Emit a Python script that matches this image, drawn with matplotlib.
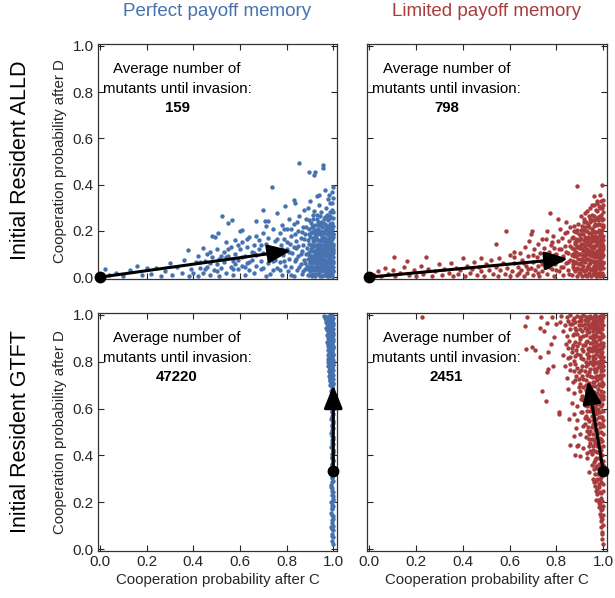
import numpy as np
import matplotlib
matplotlib.use('Agg')
import matplotlib.pyplot as plt

plt.rcParams['font.family'] = ['Liberation Sans', 'DejaVu Sans']

# 列・行ラベル
col_titles = ['Perfect payoff memory', 'Limited payoff memory']
col_colors = ['#4672b0', '#a83c3c']
row_titles = ['Initial Resident ALLD', 'Initial Resident GTFT']
invasion_counts = ['159', '798', '47220', '2451']

# 矢印（初期レジデント -> 平均ミュータント）
arrow_start = [[0.0, 0.0], [0.0, 0.0], [1.0, 0.333], [1.0, 0.333]]
arrow_end = [[0.82, 0.115], [0.85, 0.08], [1.0, 0.70], [0.935, 0.72]]

# --- 侵入したミュータント (p_C, p_D) ---
alld_perfect = np.array([
    [0.02,0.035],[0.04,0.01],[0.07,0.02],[0.10,0.005],[0.13,0.03],[0.16,0.05],[0.18,0.01],[0.20,0.04],
    [0.22,0.015],[0.24,0.04],[0.26,0.005],[0.28,0.025],[0.30,0.06],[0.31,0.01],[0.33,0.045],[0.35,0.02],
    [0.36,0.075],[0.375,0.116],[0.38,0.005],[0.39,0.035],
    [0.40,0.02],[0.41,0.065],[0.42,0.005],[0.42,0.09],[0.43,0.04],[0.443,0.127],[0.44,0.02],[0.45,0.07],
    [0.46,0.045],[0.46,0.10],[0.47,0.01],[0.47,0.06],[0.479,0.18],[0.48,0.085],[0.49,0.03],[0.493,0.175],
    [0.50,0.055],[0.50,0.12],[0.505,0.193],[0.51,0.005],[0.51,0.08],[0.522,0.263],[0.52,0.04],[0.53,0.11],
    [0.53,0.065],[0.54,0.15],[0.54,0.02],[0.549,0.232],[0.55,0.09],[0.56,0.045],[0.566,0.246],[0.56,0.13],
    [0.57,0.07],[0.57,0.01],[0.58,0.16],[0.58,0.10],[0.59,0.035],[0.59,0.075],[0.60,0.12],[0.601,0.20],
    [0.608,0.206],[0.61,0.05],[0.61,0.15],[0.62,0.01],[0.62,0.09],[0.63,0.13],[0.63,0.06],[0.64,0.175],
    [0.64,0.03],[0.65,0.11],[0.65,0.075],[0.66,0.14],[0.66,0.02],[0.67,0.244],[0.67,0.095],[0.67,0.05],
    [0.68,0.16],[0.68,0.12],[0.69,0.035],[0.69,0.07],[0.698,0.292],[0.70,0.19],[0.70,0.105],[0.708,0.242],
    [0.71,0.005],[0.71,0.145],[0.718,0.242],[0.72,0.06],[0.72,0.17],[0.73,0.09],[0.73,0.125],[0.737,0.39],
    [0.74,0.03],[0.74,0.21],[0.75,0.155],[0.75,0.075],
    [0.758,0.278],[0.76,0.04],[0.76,0.11],[0.77,0.19],[0.77,0.065],[0.775,0.14],[0.78,0.01],[0.78,0.225],
    [0.785,0.095],[0.79,0.165],[0.794,0.306],[0.795,0.05],[0.80,0.12],[0.80,0.21],[0.805,0.025],[0.81,0.08],
    [0.81,0.25],[0.815,0.145],[0.82,0.18],[0.82,0.045],[0.825,0.105],[0.83,0.335],[0.83,0.005],[0.83,0.23],
    [0.835,0.07],[0.837,0.32],[0.84,0.155],[0.84,0.125],[0.845,0.03],[0.85,0.20],[0.851,0.492],[0.85,0.09],
    [0.855,0.265],[0.86,0.055],[0.86,0.17],[0.865,0.115],[0.865,0.015],[0.87,0.215],[0.87,0.14],[0.875,0.075],
    [0.875,0.29],[0.88,0.035],[0.88,0.185],[0.885,0.10],[0.885,0.25],
    [0.891,0.01],[0.894,0.456],[0.889,0.05],[0.893,0.08],[0.888,0.125],[0.892,0.16],[0.896,0.21],[0.890,0.30],
    [0.899,0.025],[0.902,0.065],[0.898,0.095],[0.903,0.14],[0.900,0.175],[0.904,0.235],[0.901,0.33],
    [0.908,0.005],[0.910,0.045],[0.907,0.115],[0.912,0.155],[0.909,0.195],[0.911,0.27],[0.906,0.08],
    [0.916,0.442],[0.918,0.03],[0.915,0.06],[0.920,0.10],[0.917,0.135],[0.921,0.18],[0.914,0.22],[0.919,0.285],
    [0.923,0.456],[0.926,0.015],[0.928,0.05],[0.925,0.085],[0.929,0.12],[0.924,0.165],[0.927,0.205],[0.930,0.349],
    [0.931,0.25],[0.935,0.035],[0.937,0.356],[0.934,0.07],[0.938,0.105],[0.933,0.145],[0.939,0.19],[0.936,0.225],
    [0.940,0.31],[0.943,0.005],[0.945,0.055],[0.942,0.09],[0.946,0.13],[0.944,0.16],[0.947,0.24],[0.941,0.20],
    [0.948,0.28],[0.952,0.025],[0.955,0.485],[0.955,0.47],[0.951,0.065],[0.954,0.10],[0.950,0.14],[0.956,0.175],
    [0.953,0.215],[0.957,0.04],[0.960,0.01],[0.962,0.08],[0.959,0.115],[0.963,0.15],[0.961,0.19],[0.966,0.378],
    [0.964,0.26],[0.958,0.05],[0.965,0.23],[0.968,0.03],[0.970,0.065],[0.967,0.095],[0.971,0.13],[0.969,0.165],
    [0.972,0.205],[0.968,0.30],[0.973,0.005],[0.975,0.045],[0.977,0.085],[0.974,0.12],[0.978,0.155],[0.976,0.185],
    [0.979,0.245],[0.980,0.356],[0.976,0.02],[0.978,0.34],[0.982,0.06],[0.984,0.10],[0.981,0.14],[0.985,0.175],
    [0.983,0.215],[0.986,0.28],[0.982,0.035],[0.985,0.01],[0.988,0.075],[0.990,0.115],[0.987,0.15],[0.991,0.195],
    [0.989,0.05],[0.992,0.23],[0.988,0.32],[0.990,0.02],[0.994,0.32],[0.995,0.09],[0.993,0.13],[0.996,0.165],
    [0.994,0.04],[0.997,0.255],[0.995,0.21],[0.996,0.005],[0.993,0.37],[1.0,0.342],[0.999,0.06],[0.998,0.105],
    [1.0,0.145],[0.999,0.185],[0.998,0.025],[1.0,0.28],[0.999,0.39],[1.0,0.22],
    [0.905,0.03],[0.913,0.09],[0.922,0.04],[0.932,0.10],[0.947,0.11],[0.957,0.075],[0.963,0.12],[0.971,0.05],
    [0.979,0.10],[0.986,0.13],[0.992,0.09],[0.997,0.07],[0.983,0.17],[0.974,0.14],[0.965,0.17],[0.952,0.16],
    [0.938,0.015],[0.927,0.14],[0.997,0.12],[0.988,0.21],[0.969,0.215],[0.95,0.195],[0.93,0.185],[0.91,0.125],
    [0.52,0.09],[0.55,0.12],[0.57,0.035],[0.59,0.14],[0.61,0.085],[0.63,0.165],[0.64,0.065],[0.66,0.105],
    [0.67,0.18],[0.69,0.14],[0.70,0.04],[0.71,0.22],[0.72,0.10],[0.73,0.015],[0.74,0.07],[0.75,0.115],
    [0.76,0.165],[0.77,0.03],[0.78,0.12],[0.79,0.21],[0.79,0.07],[0.80,0.15],[0.81,0.11],[0.82,0.01],
    [0.82,0.21],[0.83,0.13],[0.835,0.185],[0.84,0.08],[0.845,0.24],[0.85,0.135],[0.855,0.045],[0.86,0.10],
    [0.865,0.195],[0.87,0.025],[0.875,0.165],[0.88,0.06],[0.885,0.215],[0.62,0.045],[0.58,0.055],[0.54,0.085],
    [0.50,0.025],[0.47,0.11],[0.45,0.035],[0.43,0.065],
    [0.892,0.035],[0.897,0.11],[0.894,0.185],[0.899,0.06],[0.895,0.145],[0.902,0.01],[0.905,0.12],[0.908,0.215],
    [0.904,0.09],[0.911,0.17],[0.914,0.015],[0.917,0.075],[0.913,0.25],[0.919,0.155],[0.922,0.115],[0.925,0.065],
    [0.921,0.225],[0.928,0.175],[0.924,0.03],[0.931,0.08],[0.934,0.125],[0.929,0.27],[0.936,0.16],[0.939,0.045],
    [0.941,0.115],[0.944,0.185],[0.938,0.085],[0.946,0.035],[0.949,0.075],[0.945,0.225],[0.952,0.12],[0.948,0.155],
    [0.955,0.055],[0.958,0.135],[0.954,0.195],[0.961,0.03],[0.959,0.25],[0.964,0.095],[0.962,0.165],[0.966,0.055],
    [0.968,0.145],[0.971,0.185],[0.967,0.01],[0.973,0.105],[0.975,0.07],[0.972,0.27],[0.977,0.125],[0.979,0.035],
    [0.981,0.19],[0.978,0.21],[0.983,0.08],[0.985,0.155],[0.982,0.12],[0.987,0.04],[0.989,0.175],[0.986,0.23],
    [0.991,0.065],[0.993,0.105],[0.99,0.145],[0.995,0.015],[0.997,0.185],[0.994,0.235],[0.999,0.085],[0.998,0.135],
    [1.0,0.045],[1.0,0.175],[0.996,0.29],[0.999,0.115],[0.984,0.255],[0.975,0.22],[0.963,0.205],[0.953,0.175],
    [0.943,0.14],[0.933,0.21],[0.923,0.19],[0.913,0.14],[0.903,0.19],[0.9,0.045],[0.91,0.06],[0.92,0.005],
    [0.93,0.06],[0.94,0.025],[0.95,0.005],[0.96,0.065],[0.97,0.02],[0.98,0.005],[0.99,0.035],[1.0,0.025],
    [0.96,0.14],[0.98,0.065],[0.99,0.215],[0.97,0.115],[0.95,0.08],[0.935,0.24],[0.918,0.205],[0.898,0.245],
    [0.926,0.11],[0.957,0.235],[0.987,0.265],[0.969,0.26],[0.944,0.265],[0.992,0.16],[0.976,0.1],[0.981,0.025],
    [0.965,0.135],[0.958,0.095],
])

alld_limited = np.array([
    [0.02,0.01],[0.04,0.025],[0.05,0.005],[0.07,0.04],[0.08,0.015],[0.10,0.03],[0.108,0.089],[0.11,0.005],
    [0.13,0.02],[0.15,0.045],[0.161,0.07],[0.17,0.01],[0.19,0.03],[0.20,0.005],[0.22,0.05],[0.23,0.015],
    [0.242,0.085],[0.25,0.035],[0.27,0.005],[0.28,0.025],[0.30,0.055],[0.31,0.01],[0.32,0.035],[0.34,0.02],
    [0.35,0.06],[0.36,0.005],[0.37,0.04],[0.38,0.015],[0.39,0.03],[0.40,0.084],[0.41,0.005],[0.42,0.05],
    [0.43,0.02],[0.44,0.035],[0.45,0.065],[0.46,0.01],[0.47,0.045],[0.48,0.084],[0.48,0.025],[0.49,0.005],
    [0.50,0.055],[0.51,0.03],[0.52,0.075],[0.53,0.015],[0.541,0.142],[0.54,0.045],[0.55,0.005],[0.556,0.084],
    [0.56,0.03],[0.57,0.06],[0.58,0.015],[0.585,0.199],[0.59,0.04],[0.60,0.095],[0.60,0.005],
    [0.61,0.025],[0.62,0.06],[0.62,0.11],[0.63,0.01],[0.635,0.045],[0.645,0.103],[0.65,0.03],[0.655,0.075],
    [0.66,0.005],[0.665,0.13],[0.67,0.05],[0.675,0.02],[0.68,0.09],[0.685,0.155],[0.69,0.185],[0.69,0.04],
    [0.695,0.199],[0.70,0.065],[0.70,0.01],[0.705,0.12],[0.71,0.03],[0.715,0.085],[0.72,0.145],[0.72,0.05],
    [0.725,0.005],[0.73,0.105],[0.735,0.07],[0.74,0.025],[0.74,0.165],[0.745,0.125],[0.75,0.045],[0.75,0.09],
    [0.757,0.163],[0.76,0.199],[0.76,0.015],[0.765,0.06],[0.771,0.277],[0.77,0.11],[0.775,0.14],[0.78,0.035],
    [0.78,0.08],[0.785,0.18],[0.79,0.005],[0.79,0.125],[0.795,0.055],[0.80,0.10],[0.805,0.252],[0.805,0.155],
    [0.81,0.025],[0.81,0.075],[0.815,0.21],[0.82,0.12],[0.82,0.045],[0.825,0.17],[0.83,0.09],[0.83,0.01],
    [0.835,0.135],[0.84,0.06],[0.842,0.238],[0.845,0.195],[0.85,0.03],[0.85,0.105],[0.855,0.155],[0.86,0.075],
    [0.86,0.215],
    [0.865,0.01],[0.868,0.125],[0.870,0.045],[0.872,0.175],[0.874,0.22],[0.876,0.09],[0.878,0.145],[0.879,0.025],
    [0.881,0.065],[0.883,0.195],[0.885,0.11],[0.887,0.005],[0.888,0.395],[0.889,0.155],[0.890,0.04],[0.892,0.08],
    [0.894,0.23],[0.896,0.125],[0.897,0.02],[0.899,0.17],[0.900,0.06],[0.902,0.10],[0.903,0.205],[0.905,0.035],
    [0.906,0.145],[0.907,0.264],[0.909,0.08],[0.910,0.005],[0.912,0.185],[0.913,0.115],[0.915,0.05],[0.916,0.16],
    [0.918,0.025],[0.919,0.24],[0.920,0.277],[0.921,0.09],[0.923,0.135],[0.924,0.065],[0.926,0.20],[0.927,0.01],
    [0.928,0.105],[0.930,0.17],[0.931,0.04],[0.932,0.285],[0.933,0.225],[0.934,0.08],[0.936,0.145],[0.937,0.02],
    [0.939,0.115],[0.940,0.19],[0.941,0.055],[0.943,0.25],[0.944,0.095],[0.945,0.165],[0.946,0.005],[0.948,0.13],
    [0.949,0.035],[0.950,0.21],[0.952,0.07],[0.953,0.31],[0.954,0.155],[0.955,0.105],[0.957,0.015],[0.958,0.18],
    [0.959,0.05],[0.960,0.265],[0.962,0.352],[0.962,0.125],[0.963,0.085],[0.965,0.23],[0.966,0.03],[0.967,0.16],
    [0.968,0.06],[0.969,0.195],[0.970,0.105],[0.971,0.005],[0.973,0.328],[0.973,0.14],[0.974,0.045],[0.975,0.285],
    [0.976,0.085],[0.977,0.175],[0.978,0.02],[0.979,0.245],[0.980,0.306],[0.980,0.12],[0.981,0.065],[0.982,0.205],
    [0.983,0.155],[0.984,0.035],[0.985,0.10],[0.986,0.265],[0.987,0.185],[0.988,0.005],[0.988,0.075],[0.989,0.135],
    [0.990,0.225],[0.991,0.05],[0.992,0.165],[0.993,0.11],[0.993,0.30],[0.994,0.02],[0.995,0.399],[0.995,0.205],
    [0.996,0.085],[0.996,0.145],[0.997,0.04],[0.997,0.25],[0.998,0.18],[0.998,0.12],[0.999,0.06],[0.999,0.335],
    [1.0,0.01],[1.0,0.095],[1.0,0.16],[1.0,0.215],[1.0,0.28],
    [0.87,0.07],[0.88,0.11],[0.89,0.13],[0.895,0.055],[0.905,0.165],[0.91,0.035],[0.915,0.095],[0.925,0.15],
    [0.935,0.05],[0.94,0.165],[0.945,0.075],[0.955,0.135],[0.96,0.025],[0.965,0.195],[0.97,0.07],[0.975,0.115],
    [0.98,0.045],[0.985,0.135],[0.99,0.09],[0.995,0.175],[0.97,0.25],[0.96,0.22],[0.95,0.245],[0.94,0.215],
    [0.985,0.06],[0.99,0.19],[0.965,0.105],[0.955,0.04],[0.945,0.115],[0.925,0.03],[0.915,0.205],[0.905,0.08],
    [0.885,0.165],[0.875,0.2],[0.99,0.255],[0.98,0.15],[0.975,0.005],[0.93,0.12],[0.95,0.09],[0.97,0.14],
    [0.62,0.085],[0.64,0.02],[0.66,0.06],[0.68,0.035],[0.70,0.095],[0.72,0.02],[0.74,0.055],[0.76,0.09],
    [0.77,0.045],[0.78,0.15],[0.79,0.095],[0.80,0.03],[0.81,0.12],[0.82,0.075],[0.83,0.045],[0.835,0.19],
    [0.84,0.11],[0.85,0.065],[0.855,0.015],[0.86,0.135],[0.865,0.17],[0.87,0.1],[0.875,0.035],[0.88,0.15],
    [0.885,0.06],[0.89,0.205],[0.895,0.1],[0.90,0.02],[0.905,0.125],[0.91,0.22],[0.915,0.07],[0.92,0.175],
    [0.925,0.115],[0.93,0.005],[0.935,0.10],[0.94,0.14],[0.945,0.035],[0.95,0.18],[0.955,0.07],[0.96,0.155],
    [0.965,0.015],[0.97,0.175],[0.975,0.055],[0.98,0.195],[0.985,0.02],[0.99,0.12],[0.995,0.055],[1.0,0.135],
    [1.0,0.065],[0.997,0.225],[0.992,0.27],[0.987,0.3],[0.982,0.23],[0.977,0.26],[0.972,0.225],[0.967,0.29],
    [0.962,0.245],[0.957,0.2],[0.952,0.27],[0.947,0.19],[0.942,0.24],[0.937,0.265],[0.932,0.2],[0.927,0.24],
    [0.922,0.215],[0.917,0.25],[0.912,0.145],[0.907,0.185],[0.902,0.135],[0.897,0.16],[0.892,0.035],[0.887,0.135],
    [0.882,0.09],[0.877,0.12],[0.872,0.055],[0.867,0.095],[0.95,0.115],[0.96,0.09],[0.97,0.035],[0.98,0.085],
    [0.99,0.155],[0.985,0.175],[0.975,0.15],[0.965,0.06],[0.955,0.165],[0.945,0.145],[0.935,0.175],[0.925,0.08],
    [0.915,0.12],[0.905,0.055],[0.895,0.185],[0.995,0.245],[0.993,0.145],[0.983,0.11],[0.973,0.09],[0.963,0.18],
    [0.953,0.03],[0.943,0.06],[0.933,0.15],[0.923,0.01],[0.998,0.31],[0.99,0.33],[0.985,0.355],[0.975,0.32],
    [0.96,0.31],[0.945,0.3],
])

gtft_perfect = np.array([
    [0.985,1.0],[0.992,0.995],[0.978,0.99],[0.997,0.985],[0.968,0.98],[0.988,0.975],[0.982,0.97],[0.999,0.965],
    [0.974,0.96],[0.993,0.955],[0.985,0.95],[0.97,0.945],[0.998,0.94],[0.979,0.935],[0.99,0.93],[0.984,0.925],
    [0.996,0.92],[0.975,0.915],[0.988,0.91],[0.993,0.905],[0.98,0.9],[0.999,0.895],[0.986,0.89],[0.972,0.885],
    [0.994,0.88],[0.982,0.875],[0.99,0.87],[0.977,0.865],[0.997,0.86],[0.985,0.855],[0.993,0.85],[0.98,0.845],
    [0.988,0.84],[0.999,0.835],[0.976,0.83],[0.991,0.825],[0.984,0.82],[0.996,0.815],[0.979,0.81],[0.989,0.805],
    [0.994,0.8],[0.982,0.795],[0.998,0.79],[0.986,0.785],[0.978,0.78],[0.992,0.775],[0.987,0.77],[0.999,0.765],
    [0.981,0.76],[0.993,0.755],[0.985,0.75],[0.996,0.745],[0.983,0.74],[0.99,0.735],[0.988,0.73],[0.997,0.725],
    [0.985,0.72],[0.993,0.715],[0.99,0.71],[0.998,0.705],[0.987,0.70],
    [0.995,0.998],[0.975,0.993],[0.989,0.987],[0.981,0.982],[0.994,0.977],[0.976,0.972],[0.991,0.967],[0.983,0.962],
    [0.998,0.957],[0.978,0.952],[0.992,0.947],[0.986,0.942],[0.973,0.937],[0.996,0.932],[0.982,0.927],[0.989,0.922],
    [0.978,0.917],[0.999,0.912],[0.984,0.907],[0.976,0.902],[0.991,0.897],[0.981,0.892],[0.997,0.887],[0.986,0.882],
    [0.979,0.877],[0.993,0.872],[0.983,0.867],[0.999,0.862],[0.988,0.857],[0.978,0.852],[0.995,0.847],[0.984,0.842],
    [0.991,0.837],[0.98,0.832],[0.997,0.827],[0.987,0.822],[0.993,0.817],[0.982,0.812],[0.998,0.807],[0.985,0.802],
    [0.979,0.797],[0.992,0.792],[0.988,0.782],[0.995,0.772],[0.983,0.762],[0.99,0.752],[0.997,0.742],[0.986,0.732],
    [0.994,0.722],[0.991,0.712],
    [0.987,0.996],[0.98,0.988],[0.994,0.983],[0.99,0.978],[0.984,0.973],[0.996,0.968],[0.979,0.963],[0.988,0.958],
    [0.995,0.953],[0.982,0.948],[0.99,0.943],[0.977,0.938],[0.994,0.933],[0.986,0.928],[0.998,0.923],[0.981,0.918],
    [0.992,0.913],[0.987,0.908],[0.996,0.903],[0.983,0.898],[0.989,0.893],[0.994,0.888],[0.98,0.883],[0.991,0.878],
    [0.985,0.873],[0.997,0.868],[0.988,0.863],[0.981,0.858],[0.993,0.853],[0.99,0.848],[0.985,0.843],[0.996,0.838],
    [0.983,0.833],[0.994,0.828],[0.989,0.823],[0.98,0.818],[0.991,0.813],[0.986,0.808],[0.995,0.803],[0.99,0.798],
    [0.984,0.793],[0.997,0.788],[0.982,0.783],[0.993,0.778],[0.988,0.773],[0.984,0.768],[0.996,0.763],[0.989,0.758],
    [0.992,0.748],[0.986,0.743],[0.995,0.738],[0.99,0.728],[0.984,0.718],[0.997,0.708],[0.992,0.703],
    [0.962,0.995],[0.965,0.985],[0.97,0.97],[0.967,0.99],
    [0.995,0.69],[0.99,0.675],[0.998,0.66],[0.993,0.645],[0.997,0.63],[0.991,0.615],[0.999,0.60],[0.994,0.585],
    [0.996,0.57],[0.99,0.555],[0.998,0.54],[0.993,0.525],[0.996,0.51],[0.992,0.495],[0.999,0.48],[0.994,0.465],
    [0.997,0.45],[0.991,0.435],[0.998,0.42],[0.995,0.405],[0.993,0.39],[0.999,0.375],[0.996,0.36],[0.992,0.345],
    [0.997,0.32],[0.994,0.305],[0.999,0.29],[0.991,0.275],[0.996,0.26],[0.998,0.245],[0.993,0.23],[0.997,0.215],
    [0.99,0.20],[0.999,0.185],[0.995,0.17],[0.992,0.155],[0.998,0.14],[0.994,0.125],[0.996,0.11],[0.991,0.095],
    [0.999,0.08],[0.995,0.065],[0.997,0.05],[0.993,0.035],[0.998,0.02],[0.996,0.31],[0.992,0.265],[0.999,0.225],
    [0.994,0.175],[0.997,0.13],[0.993,0.085],
    [0.996,0.695],[0.993,0.68],[0.999,0.665],[0.995,0.65],[0.992,0.635],[0.998,0.62],[0.996,0.605],[0.993,0.59],
    [0.997,0.575],[0.995,0.56],[0.999,0.545],[0.994,0.53],[0.998,0.515],[0.995,0.50],[0.993,0.485],[0.998,0.47],
    [0.996,0.455],[0.994,0.44],[0.999,0.425],[0.997,0.41],[0.993,0.395],[0.997,0.38],[0.995,0.365],[0.998,0.35],
    [0.996,0.285],[0.993,0.25],[0.999,0.205],[0.996,0.19],[0.995,0.145],[0.998,0.1],[0.996,0.055],
])

gtft_limited = np.array([
    [0.225,0.993],[0.664,0.954],[0.674,0.99],[0.695,0.862],[0.671,0.855],[0.709,0.85],[0.731,0.82],[0.736,0.99],
    [0.728,0.945],[0.781,0.99],[0.763,0.842],[0.766,0.77],[0.761,0.756],[0.785,0.78],[0.737,0.675],[0.755,0.632],
    [0.81,0.585],[0.809,0.578],[0.855,0.556],[0.857,0.445],[0.891,0.445],[0.874,0.484],[0.902,0.398],[0.93,0.39],
    [0.96,0.285],[0.97,0.25],[0.983,0.196],[0.989,0.136],[0.993,0.065],[0.999,0.02],[0.88,0.40],[0.89,0.44],
    [0.745,0.93],[0.76,0.965],[0.79,0.905],[0.80,0.96],[0.775,0.875],
    [0.82,0.995],[0.845,0.99],[0.86,0.998],[0.875,0.988],[0.89,0.995],[0.905,0.985],[0.915,0.998],[0.93,0.99],
    [0.945,0.995],[0.955,0.985],[0.965,0.998],[0.975,0.99],[0.985,0.995],[0.995,0.985],[1.0,0.998],
    [0.815,0.97],[0.835,0.955],[0.85,0.975],[0.865,0.96],[0.88,0.97],[0.895,0.955],[0.905,0.975],[0.92,0.962],
    [0.935,0.975],[0.945,0.955],[0.955,0.97],[0.965,0.95],[0.975,0.975],[0.985,0.96],[0.993,0.975],[1.0,0.955],
    [0.96,0.98],[0.99,0.945],
    [0.83,0.93],[0.845,0.91],[0.86,0.94],[0.87,0.915],[0.885,0.935],[0.9,0.905],[0.91,0.93],[0.925,0.915],
    [0.935,0.94],[0.945,0.905],[0.955,0.93],[0.965,0.915],[0.972,0.94],[0.98,0.905],[0.988,0.925],[0.995,0.94],
    [1.0,0.91],[0.95,0.945],[0.92,0.945],
    [0.84,0.875],[0.855,0.89],[0.865,0.86],[0.88,0.885],[0.89,0.865],[0.9,0.895],[0.912,0.87],[0.925,0.885],
    [0.935,0.855],[0.945,0.88],[0.955,0.895],[0.962,0.865],[0.97,0.885],[0.98,0.87],[0.987,0.895],[0.994,0.86],
    [1.0,0.88],[0.95,0.86],[0.975,0.855],
    [0.83,0.83],[0.85,0.815],[0.865,0.84],[0.875,0.805],[0.89,0.835],[0.905,0.815],[0.915,0.845],[0.925,0.80],
    [0.94,0.825],[0.95,0.845],[0.958,0.81],[0.967,0.835],[0.975,0.80],[0.982,0.845],[0.99,0.815],[0.996,0.84],
    [1.0,0.805],[0.945,0.80],[0.985,0.825],
    [0.835,0.78],[0.86,0.765],[0.88,0.79],[0.895,0.755],[0.91,0.78],[0.92,0.76],[0.935,0.79],[0.945,0.77],
    [0.955,0.785],[0.965,0.755],[0.975,0.775],[0.985,0.79],[0.99,0.76],[0.998,0.78],[0.97,0.795],
    [0.845,0.73],[0.87,0.715],[0.885,0.74],[0.9,0.705],[0.915,0.725],[0.93,0.745],[0.94,0.71],[0.952,0.735],
    [0.962,0.715],[0.972,0.74],[0.98,0.705],[0.988,0.73],[0.995,0.715],[1.0,0.745],[0.925,0.70],
    [0.85,0.685],[0.875,0.665],[0.895,0.69],[0.91,0.655],[0.925,0.68],[0.94,0.66],[0.95,0.695],[0.96,0.67],
    [0.97,0.65],[0.978,0.685],[0.986,0.66],[0.993,0.695],[1.0,0.67],
    [0.865,0.625],[0.89,0.61],[0.905,0.64],[0.92,0.615],[0.935,0.635],[0.948,0.605],[0.958,0.645],[0.968,0.62],
    [0.977,0.60],[0.985,0.635],[0.992,0.61],[0.999,0.64],
    [0.875,0.575],[0.89,0.55],[0.905,0.585],[0.92,0.56],[0.93,0.59],[0.94,0.545],[0.95,0.57],[0.96,0.595],
    [0.967,0.555],[0.975,0.58],[0.982,0.54],[0.99,0.565],[0.997,0.59],[1.0,0.55],
    [0.885,0.515],[0.9,0.49],[0.915,0.525],[0.93,0.505],[0.94,0.47],[0.95,0.52],[0.958,0.49],[0.966,0.455],
    [0.974,0.51],[0.982,0.475],[0.99,0.50],[0.996,0.46],[1.0,0.525],[0.945,0.455],
    [0.915,0.43],[0.93,0.41],[0.94,0.44],[0.95,0.405],[0.958,0.425],[0.965,0.38],[0.972,0.415],[0.98,0.39],
    [0.986,0.435],[0.993,0.40],[0.998,0.375],[0.95,0.36],[0.96,0.34],[0.97,0.355],[0.978,0.32],[0.985,0.345],
    [0.992,0.31],[0.999,0.36],[0.94,0.33],[0.975,0.30],
    [0.965,0.27],[0.975,0.235],[0.982,0.265],[0.99,0.24],[0.997,0.28],[0.97,0.21],[0.98,0.18],[0.988,0.205],
    [0.995,0.17],[0.985,0.15],[0.992,0.12],[0.998,0.145],[0.99,0.095],[0.996,0.075],[0.999,0.105],[0.994,0.045],
    [1.0,0.185],[0.978,0.21],
    [0.87,0.98],[0.9,0.99],[0.92,0.978],[0.94,0.985],[0.95,0.965],[0.96,0.99],[0.97,0.96],[0.98,0.985],
    [0.99,0.97],[0.998,0.99],[0.985,0.94],[0.975,0.925],[0.965,0.94],[0.955,0.915],[0.94,0.925],[0.93,0.96],
    [0.91,0.955],[0.895,0.975],[0.88,0.945],[0.86,0.96],[0.915,0.91],[0.93,0.93],[0.995,0.92],[0.99,0.995],
    [0.978,0.95],[0.968,0.975],[0.958,0.955],[0.948,0.985],[0.938,0.95],[0.925,0.99],[0.9,0.94],[0.89,0.92],
    [0.875,0.92],[0.996,0.955],[0.983,0.975],[0.97,0.91],[0.96,0.905],[0.993,0.905],
    [0.85,0.86],[0.87,0.87],[0.885,0.85],[0.895,0.88],[0.91,0.855],[0.92,0.87],[0.93,0.89],[0.94,0.86],
    [0.95,0.88],[0.96,0.85],[0.965,0.89],[0.975,0.87],[0.985,0.855],[0.99,0.88],[0.998,0.865],[0.86,0.82],
    [0.88,0.825],[0.9,0.83],[0.915,0.81],[0.93,0.835],[0.94,0.845],[0.955,0.825],[0.965,0.815],[0.972,0.845],
    [0.98,0.825],[0.99,0.835],[0.997,0.82],[0.985,0.805],[0.96,0.8],[0.935,0.815],[0.98,0.895],[0.97,0.86],
    [0.955,0.86],
    [0.86,0.79],[0.875,0.76],[0.89,0.775],[0.905,0.765],[0.925,0.78],[0.94,0.755],[0.95,0.795],[0.96,0.77],
    [0.97,0.76],[0.98,0.78],[0.99,0.775],[0.995,0.795],[1.0,0.765],[0.88,0.72],[0.895,0.725],[0.91,0.74],
    [0.925,0.72],[0.945,0.74],[0.955,0.715],[0.965,0.735],[0.975,0.72],[0.985,0.745],[0.992,0.73],[0.998,0.705],
    [0.9,0.675],[0.915,0.69],[0.93,0.665],[0.945,0.685],[0.955,0.665],[0.965,0.695],[0.975,0.665],[0.982,0.7],
    [0.99,0.675],[0.997,0.655],[0.915,0.635],[0.93,0.61],[0.94,0.645],[0.955,0.625],[0.965,0.605],[0.972,0.64],
    [0.98,0.62],[0.99,0.645],[0.996,0.62],
    [0.91,0.585],[0.925,0.57],[0.935,0.555],[0.945,0.59],[0.955,0.55],[0.965,0.575],[0.972,0.595],[0.98,0.565],
    [0.987,0.585],[0.995,0.565],[0.92,0.535],[0.935,0.52],[0.945,0.505],[0.955,0.535],[0.963,0.51],[0.97,0.535],
    [0.978,0.495],[0.986,0.52],[0.993,0.535],[0.999,0.49],[0.925,0.48],[0.94,0.49],[0.95,0.47],[0.96,0.465],
    [0.97,0.48],[0.98,0.455],[0.99,0.47],[0.997,0.44],[0.955,0.44],[0.965,0.42],[0.975,0.44],[0.985,0.41],
    [0.99,0.425],[0.945,0.42],
    [0.96,0.37],[0.97,0.39],[0.98,0.365],[0.99,0.38],[0.995,0.345],[0.965,0.32],[0.975,0.345],[0.985,0.3],
    [0.99,0.285],[0.98,0.28],[0.975,0.255],[0.985,0.245],[0.99,0.22],[0.996,0.205],[0.985,0.19],[0.995,0.13],
    [0.99,0.165],[0.997,0.25],[0.97,0.29],[0.955,0.3],
])

panels = [alld_perfect, alld_limited, gtft_perfect, gtft_limited]

fig = plt.figure(figsize=(6.15, 5.98), dpi=100)
W, H = 615, 598
# 各パネルの位置 (left, top, right, bottom) をピクセルで
boxes = [(98, 44, 337, 279), (367, 44, 607, 279), (98, 313, 337, 551), (367, 313, 607, 551)]

tick_col = '#262626'
for i, (l, t, r, b) in enumerate(boxes):
    ax = fig.add_axes([l / W, 1 - b / H, (r - l) / W, (b - t) / H])
    pts = panels[i]
    ax.scatter(pts[:, 0], pts[:, 1], s=10, c=col_colors[i % 2], linewidths=0, zorder=2)

    # 矢印と初期点
    ax.annotate('', xy=arrow_end[i], xytext=arrow_start[i],
                arrowprops=dict(arrowstyle='-|>,head_length=0.7,head_width=0.28', lw=2.2,
                                color='black', mutation_scale=20, shrinkA=0, shrinkB=0),
                zorder=4, annotation_clip=False)
    ax.plot(*arrow_start[i], 'o', color='black', ms=7.5, clip_on=False, zorder=5)

    ax.text(0.33, 0.90, 'Average number of', ha='center', va='center', fontsize=10.8, zorder=6)
    ax.text(0.33, 0.815, 'mutants until invasion:', ha='center', va='center', fontsize=10.8, zorder=6)
    ax.text(0.33, 0.733, invasion_counts[i], ha='center', va='center', fontsize=10.8,
            fontweight='bold', zorder=6)

    ax.set_xlim(-0.009, 1.016)
    ax.set_ylim(-0.008, 1.008)
    ticks = [0.0, 0.2, 0.4, 0.6, 0.8, 1.0]
    ax.set_xticks(ticks)
    ax.set_yticks(ticks)
    ax.tick_params(direction='in', top=True, right=True, length=4.5, width=0.8,
                   labelsize=11, colors=tick_col, pad=3)
    for sp in ax.spines.values():
        sp.set_color('#333333')
        sp.set_linewidth(0.9)

    if i % 2 == 0:
        ax.set_yticklabels([f'{v:.1f}' for v in ticks])
        ax.set_ylabel('Cooperation probability after D', fontsize=10.8, color=tick_col, labelpad=4)
    else:
        ax.set_yticklabels([])
    if i >= 2:
        ax.set_xticklabels([f'{v:.1f}' for v in ticks])
        ax.set_xlabel('Cooperation probability after C', fontsize=10.8, color=tick_col, labelpad=3)
    else:
        ax.set_xticklabels([])

# 列タイトル・行ラベル
fig.text(217 / W, 1 - 12 / H, col_titles[0], color=col_colors[0], fontsize=13.5, ha='center', va='center')
fig.text(487 / W, 1 - 12 / H, col_titles[1], color=col_colors[1], fontsize=13.5, ha='center', va='center')
fig.text(20 / W, 1 - 160 / H, row_titles[0], rotation=90, fontsize=15.5, ha='center', va='center')
fig.text(20 / W, 1 - 432 / H, row_titles[1], rotation=90, fontsize=15.5, ha='center', va='center')

fig.savefig('out.png', dpi=100)
